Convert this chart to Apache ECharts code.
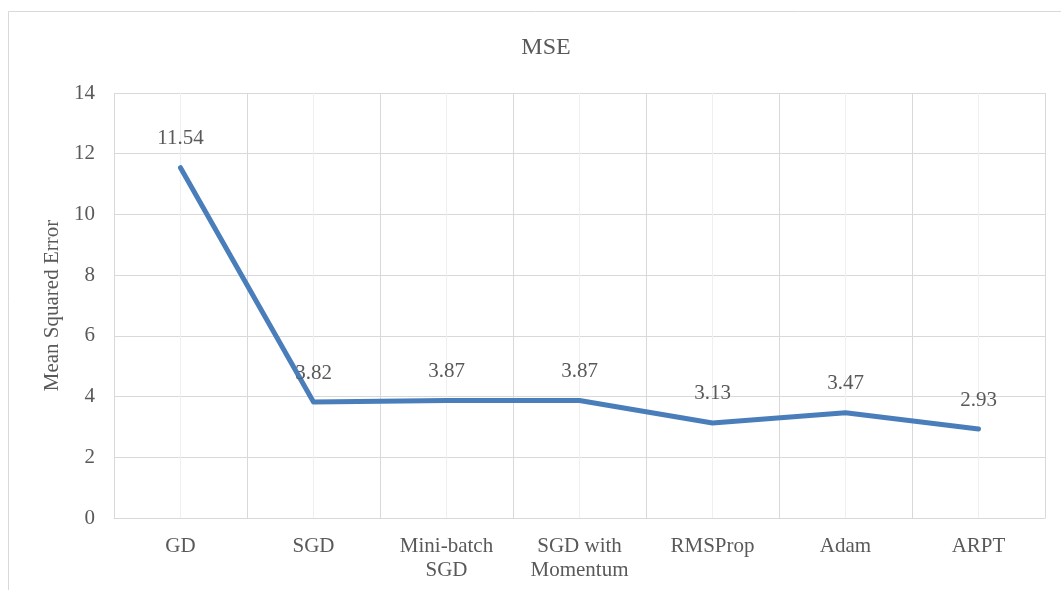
<!DOCTYPE html>
<html>
<head>
<meta charset="utf-8">
<script src="https://cdn.jsdelivr.net/npm/echarts@6/dist/echarts.min.js"></script>
<style>
  html, body { margin: 0; padding: 0; background: #fff; }
  #chart { width: 1061px; height: 590px; }
</style>
</head>
<body>
<div id="chart"></div>
<script>
// 优化器名称
var categories = ['GD', 'SGD', 'Mini-batch\nSGD', 'SGD with\nMomentum', 'RMSProp', 'Adam', 'ARPT'];
// MSE 值
var mseValues = [11.54, 3.82, 3.87, 3.87, 3.13, 3.47, 2.93];
// y 轴刻度
var yMin = 0, yMax = 14, yStep = 2;

var textColor = '#595959';
var fontName = 'Liberation Serif';

var myChart = echarts.init(document.getElementById('chart'));

var option = {
    backgroundColor: '#fff',
    animation: false,
    graphic: [{
        type: 'rect',
        shape: { x: 8.5, y: 11.5, width: 1060, height: 620 },
        style: { fill: 'none', stroke: '#d9d9d9', lineWidth: 1 },
        silent: true
    }],
    title: {
        text: 'MSE',
        left: 541,
        top: 31,
        textAlign: 'center',
        textStyle: { fontFamily: fontName, fontSize: 24, fontWeight: 'normal', color: textColor }
    },
    grid: { left: 114, right: 16, top: 93, bottom: 72 },
    xAxis: [
        {
            type: 'category',
            data: categories,
            boundaryGap: true,
            axisLine: { show: true, lineStyle: { color: '#d9d9d9', width: 1 } },
            axisTick: { show: false },
            splitLine: { show: false },
            axisLabel: {
                color: textColor, fontFamily: fontName, fontSize: 21,
                margin: 16, lineHeight: 24, interval: 0
            }
        },
        {
            // 只用来画竖向网格线（类目边界深、中心浅）
            type: 'value',
            min: 0, max: 7, interval: 0.5,
            position: 'bottom',
            axisLine: { show: false },
            axisTick: { show: false },
            axisLabel: { show: false },
            splitLine: { show: true, lineStyle: { color: ['#d9d9d9', '#efefef'], width: 1 } }
        }
    ],
    yAxis: {
        type: 'value',
        min: yMin, max: yMax, interval: yStep,
        name: 'Mean Squared Error',
        nameLocation: 'middle',
        nameGap: 44,
        nameTextStyle: { color: textColor, fontFamily: fontName, fontSize: 21 },
        axisLine: { show: false },
        axisTick: { show: false },
        axisLabel: { color: textColor, fontFamily: fontName, fontSize: 21, margin: 19 },
        splitLine: { show: true, lineStyle: { color: '#d9d9d9', width: 1 } }
    },
    series: [{
        name: 'MSE',
        type: 'line',
        xAxisIndex: 0,
        data: mseValues,
        showSymbol: true,
        symbol: 'circle',
        symbolSize: 1,
        itemStyle: { color: '#4a7ebb' },
        lineStyle: { color: '#4a7ebb', width: 5, cap: 'round', join: 'round' },
        label: {
            show: true,
            position: 'top',
            distance: 18,
            color: textColor,
            fontFamily: fontName,
            fontSize: 21,
            formatter: function (p) { return p.value.toFixed(2); }
        }
    }]
};

myChart.setOption(option);
</script>
</body>
</html>
